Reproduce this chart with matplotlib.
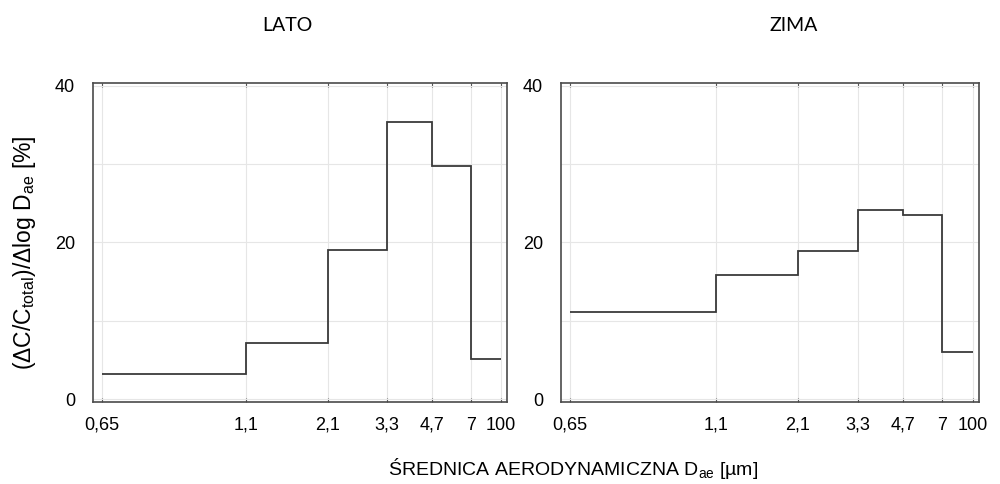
import matplotlib
matplotlib.use("Agg")
import matplotlib.pyplot as plt
import numpy as np

plt.rcParams['font.family'] = ['Liberation Sans', 'DejaVu Sans']
plt.rcParams['mathtext.fontset'] = 'custom'
plt.rcParams['mathtext.rm'] = 'Liberation Sans'
plt.rcParams['mathtext.default'] = 'regular'

# bin edges (diameter labels) and their place on the axis (axis is not log-scaled)
edge_labels = ["0,65", "1,1", "2,1", "3,3", "4,7", "7", "100"]
edge_pos = [0.022, 0.37, 0.567, 0.71, 0.819, 0.912, 0.986]

lato = [3.2, 7.2, 19.1, 35.4, 29.8, 5.2]
zima = [11.2, 15.9, 18.9, 24.1, 23.5, 6.0]

titles = ["LATO", "ZIMA"]
series = [lato, zima]

fig = plt.figure(figsize=(10, 4.84), dpi=100)
axes = [fig.add_axes([0.093, 0.170, 0.414, 0.658]),
        fig.add_axes([0.561, 0.170, 0.418, 0.658])]
title_x = [0.287, 0.794]

for ax, vals, t, tx in zip(axes, series, titles, title_x):
    ax.stairs(vals, edge_pos, baseline=None, color='#3a3a3a', lw=1.3)
    ax.set_xlim(0, 1)
    ax.set_ylim(-0.3, 40.3)
    ax.set_xticks(edge_pos)
    ax.set_xticklabels(edge_labels, fontsize=13)
    ax.set_yticks([0, 20, 40])
    ax.set_yticks([10, 30], minor=True)
    ax.tick_params(axis='y', labelsize=13, length=0, pad=13)
    ax.tick_params(axis='y', which='minor', length=0)
    ax.tick_params(axis='x', length=3, direction='in', top=True, pad=11, color='#555555')
    ax.grid(True, which='both', color='#e6e6e6', lw=0.8)
    ax.set_axisbelow(True)
    for s in ax.spines.values():
        s.set_color('#4a4a4a')
        s.set_linewidth(1.2)
    fig.text(tx, 0.948, t, ha='center', va='center', fontsize=14, family=['Lato', 'DejaVu Sans'])

fig.text(0.025, 0.477, r'($\Delta$C/C$_{total}$)/$\Delta$log D$_{ae}$ [%]', rotation=90,
         ha='center', va='center', fontsize=16.5)
fig.text(0.573, 0.033, r'ŚREDNICA AERODYNAMICZNA D$_{ae}$ [µm]', ha='center', va='center', fontsize=14)

fig.savefig("out.png", dpi=100)
